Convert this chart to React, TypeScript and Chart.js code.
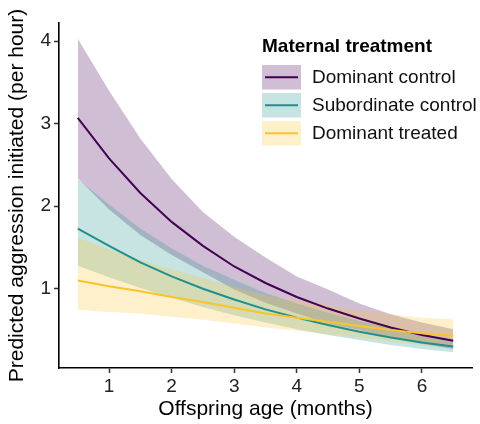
import React, { useEffect, useRef } from "react";
import { Chart, registerables } from "chart.js";

Chart.register(...registerables);

// Offspring age (months)
const ages = [0.5, 1, 1.5, 2, 2.5, 3, 3.5, 4, 4.5, 5, 5.5, 6, 6.5];

// Dominant control
const domCtrl = [3.07, 2.58, 2.16, 1.81, 1.52, 1.27, 1.07, 0.9, 0.76, 0.64, 0.53, 0.44, 0.37];
const domCtrlHi = [4.03, 3.4, 2.82, 2.33, 1.93, 1.63, 1.38, 1.15, 0.99, 0.82, 0.69, 0.59, 0.51];
const domCtrlLo = [2.34, 1.96, 1.65, 1.41, 1.2, 0.99, 0.83, 0.7, 0.58, 0.5, 0.41, 0.33, 0.27];

// Subordinate control
const subCtrl = [1.73, 1.52, 1.32, 1.15, 1.0, 0.87, 0.75, 0.65, 0.56, 0.48, 0.41, 0.35, 0.3];
const subCtrlHi = [2.33, 2.02, 1.73, 1.49, 1.28, 1.11, 0.95, 0.82, 0.71, 0.61, 0.53, 0.45, 0.39];
const subCtrlLo = [1.28, 1.14, 1.01, 0.89, 0.78, 0.68, 0.59, 0.51, 0.44, 0.38, 0.32, 0.27, 0.23];

// Dominant treated
const domTrt = [1.1, 1.03, 0.97, 0.9, 0.84, 0.77, 0.7, 0.65, 0.6, 0.55, 0.5, 0.46, 0.43];
const domTrtHi = [1.62, 1.48, 1.35, 1.23, 1.13, 1.02, 0.92, 0.86, 0.8, 0.74, 0.69, 0.65, 0.63];
const domTrtLo = [0.745, 0.72, 0.7, 0.66, 0.625, 0.58, 0.53, 0.49, 0.45, 0.41, 0.36, 0.32, 0.29];

const xTicks = [1, 2, 3, 4, 5, 6];
const yTicks = [1, 2, 3, 4];

const seriesNames = ["Dominant control", "Subordinate control", "Dominant treated"];
const lineColors = ["#440154", "#21908C", "#FBC42E"];
const bandColors = ["rgba(68,1,84,0.25)", "rgba(33,144,140,0.25)", "rgba(251,196,46,0.25)"];
const legendTitle = "Maternal treatment";

const FONT = "'Liberation Sans', Arial, Helvetica, sans-serif";

const pts = (ys: number[]) => ages.map((x, i) => ({ x, y: ys[i] }));

const legendPlugin = {
  id: "customLegend",
  afterDraw(chart: any) {
    const ctx = chart.ctx;
    ctx.save();
    const x0 = 262;
    ctx.fillStyle = "#000";
    ctx.font = `bold 19px ${FONT}`;
    ctx.textBaseline = "alphabetic";
    ctx.textAlign = "left";
    ctx.fillText(legendTitle, x0, 52);
    const boxW = 39;
    const boxH = 24.5;
    const tops = [65, 93, 121];
    ctx.font = `19px ${FONT}`;
    seriesNames.forEach((name, i) => {
      const top = tops[i];
      ctx.fillStyle = bandColors[i];
      ctx.fillRect(x0, top, boxW, boxH);
      const cy = top + boxH / 2;
      ctx.strokeStyle = lineColors[i];
      ctx.lineWidth = 2;
      ctx.beginPath();
      ctx.moveTo(x0 + 3, cy);
      ctx.lineTo(x0 + boxW - 3, cy);
      ctx.stroke();
      ctx.fillStyle = "#111";
      ctx.textBaseline = "middle";
      ctx.fillText(name, 312, cy + 1);
    });
    ctx.restore();
  },
};

export default function App() {
  const ref = useRef<HTMLCanvasElement | null>(null);
  useEffect(() => {
    document.body.style.margin = "0";
    if (!ref.current) return;
    const his = [domCtrlHi, subCtrlHi, domTrtHi];
    const los = [domCtrlLo, subCtrlLo, domTrtLo];
    const means = [domCtrl, subCtrl, domTrt];
    const datasets: any[] = [];
    for (let g = 0; g < 3; g++) {
      datasets.push({
        label: seriesNames[g] + " lower",
        data: pts(los[g]),
        borderWidth: 0,
        borderColor: "transparent",
        pointRadius: 0,
        fill: false,
        tension: 0,
        order: 5 - g,
      });
      datasets.push({
        label: seriesNames[g] + " upper",
        data: pts(his[g]),
        borderWidth: 0,
        borderColor: "transparent",
        backgroundColor: bandColors[g],
        pointRadius: 0,
        fill: "-1",
        tension: 0,
        order: 5 - g,
      });
    }
    for (let g = 0; g < 3; g++) {
      datasets.push({
        label: seriesNames[g],
        data: pts(means[g]),
        borderColor: lineColors[g],
        borderWidth: 2,
        pointRadius: 0,
        fill: false,
        tension: 0,
        order: 2 - g,
      });
    }
    const chart = new Chart(ref.current, {
      type: "line",
      data: { datasets },
      plugins: [legendPlugin],
      options: {
        animation: false,
        responsive: false,
        layout: { padding: { top: 23, right: 8, left: 0, bottom: 0 } },
        plugins: {
          legend: { display: false },
          tooltip: { enabled: false },
          filler: { drawTime: "beforeDatasetsDraw" } as any,
        },
        scales: {
          x: {
            type: "linear",
            min: 0.2,
            max: 6.8,
            afterBuildTicks: (s: any) => {
              s.ticks = xTicks.map((v) => ({ value: v }));
            },
            afterFit: (s: any) => {
              s.height = 56;
            },
            grid: {
              display: true,
              drawOnChartArea: false,
              drawTicks: true,
              tickLength: 5,
              tickColor: "#333",
              tickWidth: 1.5,
            },
            border: { display: true, color: "#000", width: 1.6 },
            ticks: {
              font: { family: FONT, size: 19 },
              color: "#222",
              padding: 2,
              maxRotation: 0,
            },
            title: {
              display: true,
              text: "Offspring age (months)",
              font: { family: FONT, size: 21 },
              color: "#000",
              padding: { top: 0, bottom: 2 },
            },
          },
          y: {
            type: "linear",
            min: 0.04,
            max: 4.22,
            afterBuildTicks: (s: any) => {
              s.ticks = yTicks.map((v) => ({ value: v }));
            },
            afterFit: (s: any) => {
              s.width = 59;
            },
            grid: {
              display: true,
              drawOnChartArea: false,
              drawTicks: true,
              tickLength: 5,
              tickColor: "#333",
              tickWidth: 1.5,
            },
            border: { display: true, color: "#000", width: 1.6 },
            ticks: {
              font: { family: FONT, size: 19 },
              color: "#222",
              padding: 3,
            },
            title: {
              display: true,
              text: "Predicted aggression initiated (per hour)",
              font: { family: FONT, size: 21 },
              color: "#000",
              padding: { top: 5, bottom: 0 },
            },
          },
        },
      },
    });
    return () => chart.destroy();
  }, []);
  return (
    <div style={{ width: 480, height: 424 }}>
      <canvas ref={ref} width={480} height={424} />
    </div>
  );
}
